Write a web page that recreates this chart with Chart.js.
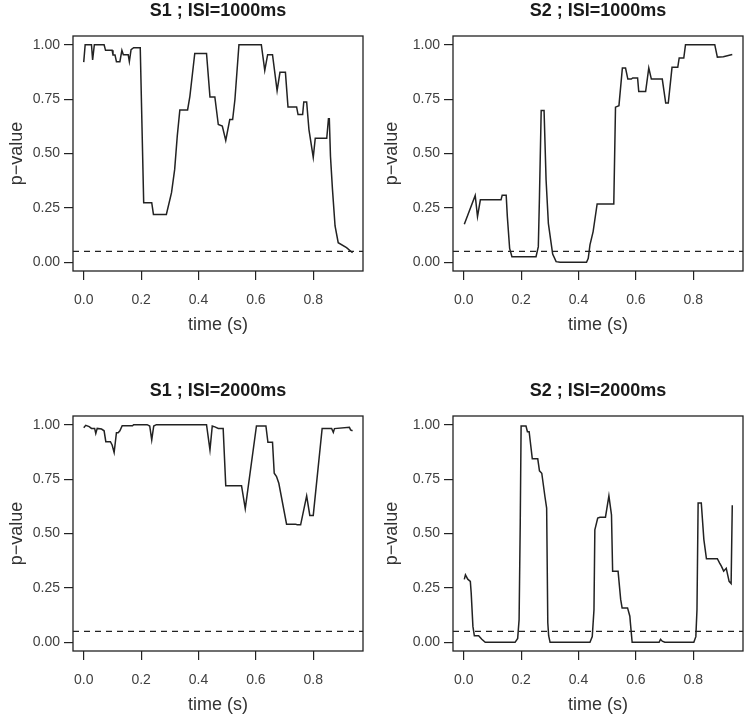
<!DOCTYPE html>
<html>
<head>
<meta charset="utf-8">
<script src="https://cdn.jsdelivr.net/npm/chart.js@4.4.1/dist/chart.umd.min.js"></script>
<style>
  body { margin: 0; width: 744px; height: 716px; overflow: hidden; background: #fff; position: relative; }
  canvas { position: absolute; }
</style>
</head>
<body>
<canvas id="c1" width="372" height="336" style="left:0;top:0"></canvas>
<canvas id="c2" width="364" height="336" style="left:380px;top:0"></canvas>
<canvas id="c3" width="372" height="336" style="left:0;top:380px"></canvas>
<canvas id="c4" width="364" height="336" style="left:380px;top:380px"></canvas>
<script>
// values (time in s, p-value)
var time1 = [0, 0.005, 0.027, 0.031, 0.037, 0.071, 0.076, 0.099, 0.102, 0.109, 0.114, 0.126, 0.133, 0.138, 0.155, 0.159, 0.165, 0.174, 0.197, 0.209, 0.237, 0.243, 0.288, 0.306, 0.317, 0.326, 0.335, 0.362, 0.370, 0.387, 0.428, 0.440, 0.457, 0.469, 0.483, 0.495, 0.509, 0.519, 0.527, 0.541, 0.619, 0.631, 0.641, 0.658, 0.674, 0.684, 0.703, 0.712, 0.742, 0.747, 0.763, 0.767, 0.777, 0.785, 0.800, 0.807, 0.847, 0.853, 0.856, 0.860, 0.867, 0.876, 0.887, 0.916, 0.937];
var pval1 = [0.92, 1.0, 1.0, 0.93, 1.0, 1.0, 0.974, 0.974, 0.953, 0.953, 0.922, 0.922, 0.974, 0.954, 0.954, 0.922, 0.977, 0.986, 0.986, 0.274, 0.274, 0.22, 0.22, 0.32, 0.427, 0.58, 0.70, 0.70, 0.763, 0.96, 0.96, 0.76, 0.76, 0.633, 0.626, 0.56, 0.656, 0.656, 0.748, 1.0, 1.0, 0.882, 0.954, 0.954, 0.789, 0.873, 0.873, 0.714, 0.714, 0.679, 0.679, 0.737, 0.737, 0.61, 0.482, 0.57, 0.57, 0.66, 0.66, 0.488, 0.335, 0.167, 0.09, 0.067, 0.044];

var time2 = [0.002, 0.040, 0.048, 0.058, 0.130, 0.134, 0.148, 0.152, 0.160, 0.168, 0.252, 0.260, 0.264, 0.270, 0.280, 0.287, 0.295, 0.303, 0.310, 0.322, 0.336, 0.428, 0.434, 0.440, 0.451, 0.465, 0.523, 0.529, 0.541, 0.553, 0.564, 0.572, 0.584, 0.589, 0.606, 0.610, 0.634, 0.645, 0.654, 0.692, 0.704, 0.713, 0.726, 0.746, 0.751, 0.767, 0.773, 0.875, 0.884, 0.905, 0.936];
var pval2 = [0.175, 0.307, 0.21, 0.287, 0.287, 0.308, 0.308, 0.21, 0.064, 0.026, 0.026, 0.072, 0.302, 0.698, 0.698, 0.379, 0.179, 0.103, 0.038, 0.003, 0.0, 0.0, 0.018, 0.08, 0.141, 0.268, 0.268, 0.713, 0.72, 0.893, 0.893, 0.842, 0.842, 0.847, 0.847, 0.785, 0.785, 0.893, 0.842, 0.842, 0.732, 0.732, 0.896, 0.896, 0.939, 0.939, 1.0, 1.0, 0.943, 0.945, 0.955];

var time3 = [0, 0.007, 0.019, 0.027, 0.038, 0.042, 0.047, 0.062, 0.071, 0.077, 0.093, 0.099, 0.106, 0.114, 0.120, 0.126, 0.134, 0.170, 0.174, 0.221, 0.230, 0.237, 0.244, 0.253, 0.428, 0.440, 0.448, 0.457, 0.469, 0.486, 0.495, 0.550, 0.563, 0.602, 0.635, 0.642, 0.658, 0.664, 0.672, 0.680, 0.707, 0.738, 0.744, 0.756, 0.777, 0.788, 0.800, 0.831, 0.864, 0.870, 0.874, 0.926, 0.930, 0.937];
var pval3 = [0.986, 0.997, 0.991, 0.983, 0.983, 0.96, 0.983, 0.98, 0.972, 0.922, 0.922, 0.907, 0.872, 0.963, 0.963, 0.972, 0.995, 0.995, 1.0, 1.0, 0.994, 0.93, 0.994, 1.0, 1.0, 0.884, 0.994, 0.99, 0.983, 0.983, 0.72, 0.72, 0.614, 0.994, 0.994, 0.919, 0.919, 0.777, 0.762, 0.731, 0.543, 0.543, 0.54, 0.54, 0.673, 0.583, 0.583, 0.983, 0.983, 0.965, 0.982, 0.988, 0.976, 0.972];

var time4 = [0.002, 0.006, 0.014, 0.023, 0.026, 0.032, 0.037, 0.052, 0.063, 0.075, 0.179, 0.188, 0.193, 0.197, 0.200, 0.217, 0.222, 0.228, 0.239, 0.258, 0.264, 0.272, 0.283, 0.289, 0.293, 0.296, 0.301, 0.440, 0.448, 0.454, 0.457, 0.467, 0.475, 0.494, 0.506, 0.515, 0.519, 0.538, 0.547, 0.552, 0.571, 0.579, 0.581, 0.587, 0.681, 0.686, 0.692, 0.701, 0.802, 0.809, 0.813, 0.817, 0.828, 0.837, 0.846, 0.884, 0.892, 0.898, 0.906, 0.915, 0.925, 0.932, 0.936];
var pval4 = [0.289, 0.31, 0.29, 0.28, 0.227, 0.073, 0.03, 0.03, 0.014, 0.0, 0.0, 0.018, 0.104, 0.55, 0.994, 0.994, 0.968, 0.968, 0.843, 0.843, 0.788, 0.777, 0.67, 0.617, 0.09, 0.03, 0.0, 0.0, 0.026, 0.15, 0.517, 0.571, 0.575, 0.575, 0.673, 0.586, 0.326, 0.326, 0.197, 0.158, 0.158, 0.12, 0.088, 0.0, 0.0, 0.014, 0.005, 0.0, 0.0, 0.026, 0.15, 0.64, 0.64, 0.472, 0.384, 0.384, 0.364, 0.35, 0.327, 0.34, 0.28, 0.27, 0.63];

var titles = ["S1 ; ISI=1000ms", "S2 ; ISI=1000ms", "S1 ; ISI=2000ms", "S2 ; ISI=2000ms"];
var xTicks = [0, 0.2, 0.4, 0.6, 0.8];
var yTicks = [0, 0.25, 0.5, 0.75, 1];
var alpha = 0.05;

var xMin = -0.0374, xMax = 0.9734;
var yMin = -0.04, yMax = 1.04;
var FONT = "'Liberation Sans', Arial, sans-serif";
var ink = '#222222';

// full box round the plot area, like R's box()
var boxPlugin = {
    id: 'box',
    afterDraw: function (chart) {
        var a = chart.chartArea, ctx = chart.ctx;
        ctx.save();
        ctx.strokeStyle = ink;
        ctx.lineWidth = 1.3;
        ctx.strokeRect(a.left, a.top, a.right - a.left, a.bottom - a.top);
        ctx.restore();
    }
};

function makePanel(id, title, xs, ys, padRight, yTitlePad) {
    var points = xs.map(function (x, i) { return {x: x, y: ys[i]}; });
    new Chart(document.getElementById(id), {
        type: 'line',
        data: {
            datasets: [{
                data: points,
                borderColor: ink,
                borderWidth: 1.5,
                pointRadius: 0,
                tension: 0
            }, {
                data: [{x: xMin, y: alpha}, {x: xMax, y: alpha}],
                borderColor: ink,
                borderWidth: 1.3,
                borderDash: [6, 5],
                pointRadius: 0
            }]
        },
        options: {
            responsive: false,
            animation: false,
            devicePixelRatio: 1,
            layout: { padding: { left: 0, right: padRight, top: 0, bottom: 0 } },
            plugins: {
                legend: { display: false },
                tooltip: { enabled: false },
                title: {
                    display: true,
                    text: title,
                    fullSize: false,
                    color: '#1a1a1a',
                    font: { size: 18, weight: 'bold', family: FONT },
                    padding: { top: 0, bottom: 14.4 }
                }
            },
            scales: {
                x: {
                    type: 'linear',
                    min: xMin,
                    max: xMax,
                    afterFit: function (s) { s.height = 65; },
                    afterBuildTicks: function (s) { s.ticks = xTicks.map(function (v) { return {value: v}; }); },
                    grid: { drawOnChartArea: false, tickLength: 9, tickColor: ink, lineWidth: 1.2 },
                    border: { display: false },
                    ticks: {
                        padding: 12,
                        maxRotation: 0,
                        color: '#404040',
                        font: { size: 14, family: FONT },
                        callback: function (v) { return v.toFixed(1); }
                    },
                    title: {
                        display: true,
                        text: 'time (s)',
                        color: '#333333',
                        font: { size: 18, family: FONT },
                        padding: { top: 0, bottom: 0 }
                    }
                },
                y: {
                    type: 'linear',
                    min: yMin,
                    max: yMax,
                    afterFit: function (s) { s.width = 73; },
                    afterBuildTicks: function (s) { s.ticks = yTicks.map(function (v) { return {value: v}; }); },
                    grid: { drawOnChartArea: false, tickLength: 9, tickColor: ink, lineWidth: 1.2 },
                    border: { display: false },
                    ticks: {
                        padding: 4,
                        color: '#404040',
                        font: { size: 14, family: FONT },
                        callback: function (v) { return v.toFixed(2); }
                    },
                    title: {
                        display: true,
                        text: 'p\u2212value',
                        color: '#333333',
                        font: { size: 18, family: FONT },
                        padding: { top: yTitlePad, bottom: 0 }
                    }
                }
            }
        },
        plugins: [boxPlugin]
    });
}

makePanel('c1', titles[0], time1, pval1, 9, 6);
makePanel('c2', titles[1], time2, pval2, 1, 1);
makePanel('c3', titles[2], time3, pval3, 9, 6);
makePanel('c4', titles[3], time4, pval4, 1, 1);
</script>
</body>
</html>
